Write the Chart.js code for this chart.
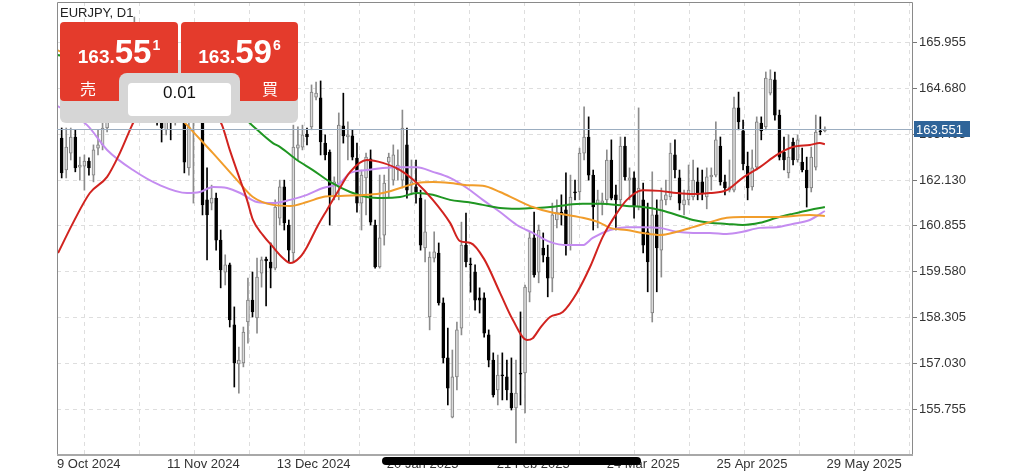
<!DOCTYPE html>
<html>
<head>
<meta charset="utf-8">
<script src="https://cdn.jsdelivr.net/npm/chart.js@4.4.1/dist/chart.umd.min.js"></script>
<style>
html,body{margin:0;padding:0;background:#fff;}
#wrap{position:relative;width:1024px;height:473px;overflow:hidden;}
#c{position:absolute;left:0;top:0;}
.title{position:absolute;left:60px;top:5px;font:13px 'Liberation Sans',Arial,sans-serif;color:#222;line-height:15px;}
.gray1{position:absolute;left:60px;top:60px;width:238px;height:63px;background:#d6d6d6;border-radius:0 0 6px 6px;}
.btn{position:absolute;top:22px;height:79px;background:#e43b2c;border-radius:4px;}
.sell{left:60px;width:118px;}
.buy{left:181px;width:117px;}
.price{position:absolute;left:0;right:0;top:10px;text-align:center;white-space:nowrap;color:#fff;font-family:'Liberation Sans Narrow','Liberation Sans',Arial,sans-serif;font-weight:bold;line-height:40px;}
.sm{font-size:19px;}
.lg{font-size:33px;}
.sup{font-size:14px;position:relative;top:-13px;margin-left:1px;}
.side{position:absolute;top:57px;font:16px 'Noto Sans CJK JP',sans-serif;color:#fff;line-height:18px;}
.gray2{position:absolute;left:119px;top:73px;width:121px;height:50px;background:#d6d6d6;border-radius:8px 8px 0 0;}
.qty{position:absolute;left:128px;top:83px;width:103px;height:33px;background:#fff;border-radius:4px;text-align:center;line-height:33px;font:17px 'Liberation Sans',Arial,sans-serif;color:#111;}
</style>
</head>
<body>
<div id="wrap">
<canvas id="c" width="1024" height="473"></canvas>
<div class="title">EURJPY, D1</div>
<div class="gray1"></div>
<div class="btn sell"><div class="price"><span class="sm">163.</span><span class="lg">55</span><span class="sup">1</span></div><div class="side" style="left:20px">売</div></div>
<div class="btn buy"><div class="price"><span class="sm">163.</span><span class="lg">59</span><span class="sup">6</span></div><div class="side" style="left:81px">買</div></div>
<div class="gray2"></div>
<div class="qty">0.01</div>
</div>
<script>
// ---- data ----
const dateLabels = ['9 Oct 2024','11 Nov 2024','13 Dec 2024','20 Jan 2025','21 Feb 2025','24 Mar 2025','25 Apr 2025','29 May 2025'];
const yTicks = [155.755,157.030,158.305,159.580,160.855,162.130,163.405,164.680,165.955];
const currentPrice = 163.551;

const open = [163.30,162.41,162.88,163.33,162.49,162.52,162.66,162.27,163.02,163.11,
163.58,164.08,164.50,164.22,164.92,165.42,165.20,166.17,165.61,164.97,
165.53,164.50,163.86,163.53,163.86,163.80,164.36,164.08,162.47,163.86,
164.03,164.36,161.58,161.49,161.63,160.46,159.57,159.77,158.10,157.01,
157.04,158.18,158.79,158.29,159.54,159.93,159.85,159.68,161.07,161.94,
160.88,160.10,163.02,163.05,163.41,163.61,164.44,164.42,163.16,162.91,
161.66,161.94,163.64,163.33,163.36,162.74,161.49,162.19,162.72,160.88,
159.71,160.60,162.63,162.13,162.41,162.13,163.11,161.99,161.94,161.63,
160.24,158.32,159.96,160.10,158.71,157.18,155.53,156.65,158.01,160.32,
159.79,159.57,158.85,158.85,157.82,157.12,156.29,156.70,156.65,156.20,
155.79,156.76,156.76,159.01,160.52,159.57,160.24,159.99,159.40,161.02,
161.24,161.30,160.32,161.80,161.80,162.88,163.33,162.27,161.44,161.49,
161.58,162.69,161.72,161.58,163.08,162.13,162.19,161.38,161.58,160.69,
158.43,161.16,160.18,161.58,161.66,162.83,162.19,161.44,161.58,161.66,
162.08,162.08,161.66,162.22,162.27,163.08,162.08,161.85,161.85,164.14,
163.50,162.52,161.94,162.49,163.72,163.61,164.55,164.92,163.94,162.91,
162.33,163.19,162.69,162.63,162.41,161.91,162.49,163.50,163.50];
const high = [163.58,163.58,163.58,163.53,162.77,162.83,162.75,163.11,163.53,163.86,
164.36,164.69,164.78,165.14,165.61,165.75,166.67,166.36,165.81,165.89,
165.70,164.69,164.08,164.22,164.36,164.69,164.64,164.22,163.86,164.22,
164.50,164.50,162.47,161.99,161.77,160.74,160.05,159.82,158.60,157.48,
158.04,159.40,159.57,159.96,159.99,159.99,160.38,161.58,162.13,162.13,
161.02,163.66,163.61,163.66,163.58,164.78,164.86,164.89,163.39,162.97,
162.22,164.00,164.55,163.75,163.53,163.16,162.41,162.88,162.97,161.02,
162.27,162.27,162.88,163.11,162.97,164.08,163.58,162.69,162.69,161.85,
161.58,160.13,160.69,160.38,158.85,158.01,157.40,158.18,160.96,161.21,
159.96,159.77,159.13,158.99,157.96,157.32,157.26,157.32,157.12,157.18,
157.12,158.46,159.21,160.69,161.24,160.88,160.66,160.32,161.49,161.58,
161.72,162.33,162.27,162.13,163.02,164.17,163.89,162.41,161.85,161.77,
162.97,163.25,161.99,163.33,163.33,162.47,162.36,164.14,162.05,161.49,
162.36,161.58,161.91,162.13,163.16,163.25,162.41,161.85,162.55,162.69,
162.47,162.41,162.47,162.47,163.75,163.33,162.27,162.69,164.44,164.58,
163.80,162.91,162.97,163.89,163.89,165.14,165.20,165.14,164.08,163.33,
163.39,163.30,163.39,163.02,162.77,163.05,163.94,163.89,163.61];
const low = [162.19,162.19,162.69,162.36,162.13,161.85,162.27,162.08,162.83,162.97,
163.47,163.94,164.03,164.14,164.78,164.97,165.14,165.47,164.78,164.86,
164.36,163.66,163.19,163.39,163.25,163.66,163.86,162.33,162.27,161.49,
163.80,161.16,159.91,161.30,160.18,159.13,159.21,158.04,156.37,156.20,
156.93,157.59,158.32,157.87,159.15,158.63,159.13,159.63,160.88,160.74,
159.85,159.85,162.69,162.97,163.11,163.53,164.36,162.83,162.69,160.88,
161.58,161.58,163.16,162.69,162.69,161.24,160.74,161.16,160.88,159.68,
159.68,160.32,161.66,161.99,162.13,161.91,161.63,161.72,161.49,160.18,
159.85,157.96,159.85,158.65,157.04,155.87,155.51,156.29,157.82,159.71,
159.01,158.51,158.43,157.76,156.93,156.09,155.87,156.01,156.01,155.73,
154.81,155.87,155.65,158.74,159.43,159.27,159.85,158.88,159.02,160.80,
160.88,160.04,160.18,161.58,161.58,162.69,162.13,160.74,160.80,161.16,
161.44,161.58,160.74,161.44,162.13,161.58,161.07,161.30,160.10,159.02,
158.18,159.02,159.43,161.44,161.58,162.19,161.30,161.16,161.44,161.58,
161.58,161.58,161.33,161.85,162.22,161.99,161.72,161.80,161.80,163.53,
162.41,161.58,161.85,162.41,163.25,163.53,164.50,163.80,162.69,162.41,
162.19,162.55,162.63,162.36,161.38,161.80,162.41,163.39,163.47];
const close = [162.33,163.05,163.33,162.47,162.55,162.66,162.47,162.97,163.11,163.58,
164.08,164.50,164.22,164.92,165.42,165.20,166.17,165.61,164.97,165.53,
164.50,163.86,163.58,163.86,163.75,164.36,164.08,162.63,163.61,164.03,
164.36,161.44,161.16,161.63,160.46,159.63,159.77,158.24,157.04,157.12,
157.90,158.79,158.46,159.43,159.91,159.88,159.68,161.38,161.94,160.94,
160.18,163.05,163.11,163.39,163.33,164.58,164.55,163.19,162.83,161.66,
162.08,163.66,163.36,163.39,162.77,161.49,162.27,162.77,160.96,159.71,
160.52,162.05,162.77,162.83,162.55,163.58,161.85,162.08,161.80,160.32,
160.69,159.99,160.13,158.71,157.18,156.34,156.65,157.96,160.32,159.85,
159.77,158.79,158.79,157.87,157.12,156.15,156.70,156.68,156.29,155.79,
156.20,156.73,159.15,160.52,159.49,160.74,160.04,159.40,161.16,161.24,
161.16,160.32,161.66,161.77,162.88,163.33,162.27,161.38,161.58,161.55,
162.69,161.63,161.58,163.08,162.22,162.19,161.38,161.91,160.32,159.85,
161.16,160.24,161.58,161.72,162.88,162.41,161.49,161.58,161.85,162.13,
161.72,161.77,162.22,162.27,163.25,162.08,161.91,161.94,164.14,163.75,
162.58,161.91,162.47,163.75,163.50,164.97,164.94,163.94,162.77,162.69,
162.77,162.69,163.25,162.41,161.91,162.77,163.47,163.47,163.551];

// moving averages: [bar index, price]
const maRed = [[-0.8,160.10],[2.5,160.94],[6.2,161.77],[10.0,162.22],[12.8,162.88],[15.5,163.66],[18.3,164.36],[21.6,164.86],[24.9,164.97],[28.2,164.78],[31.5,164.36],[33.7,164.03],[35.3,163.66],[37.0,162.97],[39.3,162.13],[40.8,161.58],[42.1,161.02],[44.3,160.60],[46.5,160.27],[48.7,159.96],[50.3,159.82],[52.5,159.99],[54.0,160.27],[56.2,160.82],[58.4,161.30],[60.6,161.77],[63.5,162.36],[67.2,162.69],[70.7,162.61],[74.5,162.41],[78.2,162.05],[81.7,161.58],[85.5,160.94],[87.7,160.43],[90.0,160.38],[93.0,159.93],[96.5,158.99],[99.3,158.24],[102.4,157.68],[103.7,157.73],[105.3,158.01],[107.5,158.32],[110.3,158.46],[113.4,158.99],[116.3,159.71],[119.1,160.55],[122.2,161.21],[124.4,161.58],[127.9,161.85],[131.7,161.83],[135.4,161.77],[139.0,161.74],[142.7,161.77],[146.4,161.85],[149.9,162.19],[153.7,162.49],[157.4,162.83],[160.9,163.05],[164.7,163.11],[166.9,163.16],[168.0,163.13]];
const maOrange = [[-1,165.75],[8.4,165.20],[17.2,164.69],[23.8,164.22],[27.6,163.66],[33.3,162.88],[38.6,162.13],[42.1,161.66],[46.5,161.44],[50.3,161.41],[54.0,161.52],[57.5,161.66],[61.3,161.69],[67.2,161.72],[70.7,161.77],[74.5,161.91],[78.2,162.05],[81.7,162.08],[85.5,162.05],[89.2,161.99],[92.7,161.97],[96.5,161.80],[100.2,161.58],[103.7,161.38],[107.5,161.24],[111.2,161.16],[114.7,161.08],[118.5,160.94],[120.7,160.80],[124.4,160.74],[127.9,160.66],[131.7,160.60],[135.4,160.69],[139.0,160.82],[142.7,160.96],[146.4,161.08],[149.9,161.10],[157.4,161.10],[164.7,161.16],[168.0,161.13]];
const maGreen = [[-1,165.61],[19.4,165.20],[30.4,164.69],[38.2,164.08],[41.9,163.66],[46.5,163.16],[48.1,163.05],[51.8,162.69],[55.3,162.41],[59.1,162.08],[63.5,161.80],[67.2,161.66],[70.7,161.63],[74.5,161.66],[78.2,161.77],[81.7,161.72],[85.5,161.58],[89.2,161.52],[92.7,161.44],[96.5,161.35],[100.2,161.33],[103.7,161.35],[107.5,161.38],[111.2,161.44],[114.7,161.47],[118.5,161.47],[124.4,161.41],[127.9,161.38],[131.7,161.30],[135.4,161.16],[139.0,161.02],[142.7,160.94],[146.4,160.91],[149.9,160.88],[153.7,160.94],[157.4,161.08],[160.9,161.19],[164.7,161.30],[168.0,161.38]];
const maPurple = [[-1,164.20],[5.6,163.66],[10.0,162.97],[15.7,162.41],[21.6,161.99],[27.6,161.77],[30.4,161.80],[33.3,161.94],[36.4,161.91],[39.3,161.77],[43.0,161.52],[46.5,161.49],[50.3,161.58],[54.0,161.72],[57.5,161.91],[61.3,162.05],[63.5,162.33],[67.2,162.41],[70.7,162.47],[74.5,162.49],[78.2,162.49],[81.7,162.36],[85.5,162.19],[89.2,161.91],[92.7,161.58],[96.5,161.24],[100.2,160.88],[103.7,160.66],[107.5,160.41],[111.2,160.32],[114.7,160.32],[116.9,160.52],[120.7,160.74],[124.4,160.82],[127.9,160.82],[131.7,160.80],[135.4,160.69],[139.0,160.66],[142.7,160.66],[146.4,160.63],[149.9,160.69],[153.7,160.80],[157.4,160.82],[160.9,160.91],[164.7,161.02],[168.0,161.27]];

// ---- layout (not data) ----
const X_MIN = -1.03, X_MAX = 187.4, GRID_START = -1.03, GRID_STEP = 12.1;
const FONT = "'Liberation Sans', Arial, sans-serif";

const isUp = open.map((o, i) => close[i] >= o);
const bodyData = open.map((o, i) => ({x: i, y: [o, close[i]]}));
const wickData = open.map((o, i) => ({x: i, y: [low[i], high[i]]}));
const toXY = arr => arr.map(p => ({x: p[0], y: p[1]}));

function lineDs(arr, color) {
  return {type: 'line', data: toXY(arr), borderColor: color, borderWidth: 2, pointRadius: 0,
    cubicInterpolationMode: 'monotone', fill: false, order: 0};
}

const overlay = {
  id: 'overlay',
  afterDraw(chart) {
    const {ctx, chartArea: a, scales: {y}} = chart;
    ctx.save();
    // frame
    ctx.strokeStyle = '#8a8a8a'; ctx.lineWidth = 1;
    ctx.beginPath();
    ctx.moveTo(a.left + 0.5, a.bottom); ctx.lineTo(a.left + 0.5, a.top + 0.5);
    ctx.lineTo(a.right - 0.5, a.top + 0.5); ctx.lineTo(a.right - 0.5, a.bottom);
    ctx.stroke();
    ctx.strokeStyle = '#a8a8a8'; ctx.lineWidth = 2;
    ctx.beginPath(); ctx.moveTo(a.left, a.bottom + 1); ctx.lineTo(a.right, a.bottom + 1); ctx.stroke();
    // current price line + label
    const py = Math.round(y.getPixelForValue(currentPrice)) + 0.5;
    ctx.strokeStyle = '#9badc0'; ctx.lineWidth = 1;
    ctx.beginPath(); ctx.moveTo(a.left, py); ctx.lineTo(a.right, py); ctx.stroke();
    ctx.fillStyle = '#2f6499';
    ctx.fillRect(a.right + 1, py - 8.5, 56, 16);
    ctx.fillStyle = '#ffffff'; ctx.font = '13px ' + FONT; ctx.textBaseline = 'middle'; ctx.textAlign = 'left';
    ctx.fillText(currentPrice.toFixed(3), a.right + 3, py + 0.5);
    // scroll indicator
    ctx.fillStyle = '#000';
    ctx.beginPath(); ctx.roundRect(382, 457, 259, 8, 4); ctx.fill();
    ctx.restore();
  }
};

new Chart(document.getElementById('c'), {
  type: 'bar',
  data: {
    datasets: [
      lineDs(maRed, '#d1231f'),
      lineDs(maOrange, '#f19d2b'),
      lineDs(maGreen, '#1f9622'),
      lineDs(maPurple, '#c48cf0'),
      {type: 'bar', data: bodyData, grouped: false, barThickness: 3, minBarLength: 1,
        backgroundColor: isUp.map(u => u ? '#dadada' : '#000000'),
        borderColor: isUp.map(u => u ? '#808080' : '#000000'),
        borderWidth: 1, borderSkipped: false, order: 1},
      {type: 'bar', data: wickData, grouped: false, barThickness: 1,
        backgroundColor: isUp.map(u => u ? '#8c8c8c' : '#000000'),
        borderWidth: 0, order: 2}
    ]
  },
  options: {
    responsive: false, animation: false, devicePixelRatio: 1,
    layout: {padding: {left: 57, top: 2, right: 0, bottom: 0}},
    plugins: {legend: {display: false}, tooltip: {enabled: false}},
    scales: {
      x: {
        type: 'linear', min: X_MIN, max: X_MAX, offset: false,
        afterBuildTicks: s => {
          const t = [];
          for (let v = GRID_START; v <= X_MAX; v += GRID_STEP) t.push({value: v});
          s.ticks = t;
        },
        afterFit: s => { s.height = 19; s.paddingLeft = 0; s.paddingRight = 0; },
        ticks: {autoSkip: false, maxRotation: 0, minRotation: 0, align: 'start', padding: 3,
          color: '#333', font: {family: FONT, size: 13},
          callback: (v, i) => (i % 2 === 0 && dateLabels[i / 2]) ? dateLabels[i / 2] : ''},
        grid: {color: '#dedede', drawTicks: false, lineWidth: 1},
        border: {display: false, dash: [4, 4]}
      },
      y: {
        position: 'right', min: 154.505, max: 167.088,
        afterBuildTicks: s => { s.ticks = yTicks.map(v => ({value: v})); },
        afterFit: s => { s.width = 111; s.paddingTop = 0; s.paddingBottom = 0; },
        ticks: {color: '#333', font: {family: FONT, size: 13}, padding: 2,
          callback: v => Number(v).toFixed(3)},
        grid: {color: '#dedede', tickLength: 4, tickColor: '#777', tickBorderDash: [], lineWidth: 1},
        border: {display: false, dash: [4, 4]}
      }
    }
  },
  plugins: [overlay]
});
</script>
</body>
</html>
